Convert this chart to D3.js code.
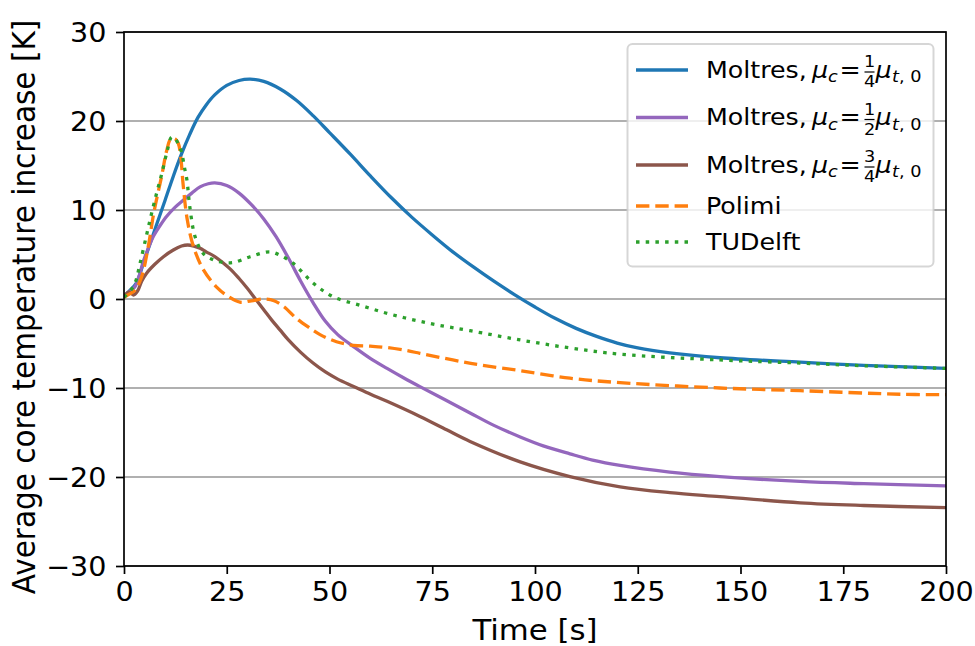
<!DOCTYPE html>
<html><head><meta charset="utf-8">
<script src="https://cdn.jsdelivr.net/npm/d3@7"></script>
<style>body{margin:0;background:#fff} svg{display:block} text{font-family:"DejaVu Sans",sans-serif;fill:#000}</style>
</head><body><svg id="c" width="975" height="646"></svg>
<script>
// ---- data ----
const xTicks = [0, 25, 50, 75, 100, 125, 150, 175, 200];
const yTicks = [-30, -20, -10, 0, 10, 20, 30];

const tBlue = [0, 1.5, 3, 4.7, 6, 8, 10, 12, 14, 16, 18, 20, 22, 25, 28, 30.7, 34, 38, 42, 46, 50, 55, 60, 65, 70, 75, 80, 85, 90, 95, 100, 105, 110, 115, 120, 125, 132.8, 145, 164.5, 180, 200];
const vBlue = [0.3, 1.0, 1.8, 4.0, 5.75, 8.45, 11.1, 13.8, 16.3, 18.5, 20.4, 21.8, 22.9, 24.0, 24.55, 24.7, 24.45, 23.6, 22.3, 20.6, 18.7, 16.3, 13.8, 11.4, 9.2, 7.2, 5.3, 3.6, 2.0, 0.5, -0.9, -2.2, -3.3, -4.2, -4.95, -5.5, -6.05, -6.6, -7.1, -7.45, -7.8];

const tPurple = [0, 1.5, 2.7, 3.7, 4.7, 5.9, 7.1, 8.7, 10.4, 12.4, 14.4, 16.5, 18.5, 20.5, 22.1, 25, 28, 31, 34, 37, 40, 43, 46, 49, 52, 56, 60, 64, 68, 72, 78, 84.2, 90, 96.4, 102, 108.5, 114, 120.7, 132.8, 145, 164.5, 180, 200];
const vPurple = [0.3, 0.9, 1.4, 2.6, 4.2, 5.7, 7.0, 8.2, 9.3, 10.3, 11.1, 11.9, 12.6, 12.95, 13.05, 12.75, 11.9, 10.6, 9.0, 7.0, 4.6, 2.0, -0.4, -2.5, -4.0, -5.4, -6.7, -7.8, -8.85, -9.85, -11.3, -12.8, -14.2, -15.5, -16.5, -17.4, -18.1, -18.7, -19.45, -19.95, -20.5, -20.75, -21.0];

const tBrown = [0, 1.2, 2.3, 3.3, 4.3, 5.5, 7.5, 9.6, 12, 14, 15.5, 17, 18.5, 20, 22, 24, 26, 28, 30, 32, 34, 36, 38, 40, 43, 46, 49, 52, 56, 60, 64, 72, 78.5, 84.2, 96.4, 108.5, 120.7, 132.8, 145, 164.5, 180, 200];
const vBrown = [0.3, 0.8, 0.45, 0.9, 2.0, 2.9, 3.9, 4.75, 5.5, 5.95, 6.07, 5.95, 5.7, 5.3, 4.8, 4.1, 3.3, 2.3, 1.2, 0.0, -1.2, -2.4, -3.5, -4.6, -6.0, -7.2, -8.2, -9.0, -9.85, -10.7, -11.5, -13.2, -14.7, -16.0, -18.3, -19.95, -21.1, -21.75, -22.2, -22.9, -23.2, -23.45];

const tPolimi = [0, 1.5, 2.7, 4.3, 5.9, 7.3, 9.2, 10.4, 11.4, 12.4, 13.2, 13.8, 14.4, 15.4, 16.9, 19.3, 22.6, 25, 28.2, 31, 34, 36.5, 39, 42, 45, 47.7, 51.7, 55.8, 59.9, 63.9, 68.8, 72, 80, 86.6, 96.4, 108.5, 120.7, 145, 164.5, 188.8, 200];
const vPolimi = [0.2, 0.6, 1.0, 2.5, 5.9, 9.8, 13.9, 16.7, 18.0, 18.0, 17.5, 16.0, 12.8, 8.9, 5.9, 3.3, 1.3, 0.4, -0.35, -0.2, 0.0, -0.2, -0.9, -2.2, -3.2, -4.0, -4.8, -5.2, -5.3, -5.45, -5.8, -6.1, -6.85, -7.4, -8.05, -8.9, -9.4, -10.0, -10.3, -10.7, -10.75];

const tTUDelft = [0, 1.5, 2.7, 3.9, 5.5, 6.7, 8, 9.2, 10.5, 11.6, 12.5, 13.3, 14, 14.7, 15.3, 16, 17.3, 19.3, 21.7, 24.2, 26.6, 30.7, 35.5, 38, 41.2, 46, 50.9, 57.4, 63.9, 70, 76.1, 84.2, 96.4, 108.5, 120.7, 145, 164.5, 180, 200];
const vTUDelft = [0.2, 0.9, 1.8, 4.0, 7.2, 9.6, 12.0, 14.1, 16.6, 18.2, 18.0, 17.3, 16.5, 14.8, 13.4, 10.4, 7.0, 5.1, 4.4, 4.1, 4.1, 4.75, 5.3, 4.9, 4.0, 1.8, 0.25, -0.7, -1.6, -2.3, -2.9, -3.56, -4.6, -5.5, -6.2, -6.85, -7.2, -7.5, -7.8];

const moltresFractions = [["1", "4"], ["1", "2"], ["3", "4"]];
const seriesNames = ["Moltres", "Moltres", "Moltres", "Polimi", "TUDelft"];
const xLabel = "Time [s]";
const yLabel = "Average core temperature increase [K]";

// ---- chart ----
const W = 975, H = 646;
const L = 124, R = 946, T = 32, B = 566;
const SX = 1.1;
const LW = 3.3;
const x = d3.scaleLinear().domain([0, 200]).range([L, R]);
const y = d3.scaleLinear().domain([-30, 30]).range([B, T]);
const svg = d3.select('#c');
svg.append('rect').attr('width', W).attr('height', H).attr('fill', '#fff');

const fmt = d => d < 0 ? '\u2212' + Math.abs(d) : String(d);

// grid
svg.append('g').selectAll('line').data(yTicks).join('line')
  .attr('x1', L).attr('x2', R).attr('y1', d => y(d)).attr('y2', d => y(d))
  .attr('stroke', '#b0b0b0').attr('stroke-width', 1.8);

const series = [
  {t: tBlue, v: vBlue, color: '#1f77b4', dash: null},
  {t: tPurple, v: vPurple, color: '#9467bd', dash: null},
  {t: tBrown, v: vBrown, color: '#8c564b', dash: null},
  {t: tPolimi, v: vPolimi, color: '#ff7f0e', dash: '13.4,5.9'},
  {t: tTUDelft, v: vTUDelft, color: '#2ca02c', dash: '3.5,6.2'}
];
svg.append('clipPath').attr('id', 'clip').append('rect').attr('x', L).attr('y', T).attr('width', R - L).attr('height', B - T);
const line = d3.line().x(d => x(d[0])).y(d => y(d[1])).curve(d3.curveCatmullRom.alpha(0.5));
const gl = svg.append('g').attr('clip-path', 'url(#clip)');
series.forEach(s => {
  gl.append('path').datum(s.t.map((t, i) => [t, s.v[i]]))
    .attr('d', line).attr('fill', 'none').attr('stroke', s.color).attr('stroke-width', LW)
    .attr('stroke-dasharray', s.dash).attr('stroke-linecap', s.dash ? 'butt' : 'square')
    .attr('stroke-linejoin', 'round');
});

// axes
const ax = svg.append('g').attr('transform', `translate(0,${B})`)
  .call(d3.axisBottom(x).tickValues(xTicks).tickSize(8).tickFormat(fmt));
const ay = svg.append('g').attr('transform', `translate(${L},0)`)
  .call(d3.axisLeft(y).tickValues(yTicks).tickSize(8).tickFormat(fmt));
[ax, ay].forEach(a => {
  a.select('.domain').remove();
  a.selectAll('.tick line').attr('stroke', '#000').attr('stroke-width', 1.7);
  a.selectAll('text').attr('font-size', 26).attr('font-family', '"DejaVu Sans",sans-serif').attr('fill', '#000');
});
ax.selectAll('.tick text').attr('y', null).attr('dy', null).attr('transform', `translate(0,35) scale(${SX},1)`);
ay.selectAll('.tick text').attr('x', null).attr('dy', null).attr('text-anchor', 'end').attr('transform', `translate(-17.5,9.5) scale(${SX},1)`);

// spines
svg.append('rect').attr('x', L).attr('y', T).attr('width', R - L).attr('height', B - T)
  .attr('fill', 'none').attr('stroke', '#000').attr('stroke-width', 1.7);

// axis labels
svg.append('text').attr('transform', `translate(${(L + R) / 2},640) scale(${SX},1)`)
  .attr('text-anchor', 'middle').attr('font-size', 28).text(xLabel);
svg.append('text').attr('transform', `translate(35,${(T + B) / 2 + 8}) scale(${SX},1) rotate(-90)`)
  .attr('text-anchor', 'middle').attr('font-size', 29.5).text(yLabel);

// legend
const lg = svg.append('g');
lg.append('rect').attr('x', 627.5).attr('y', 44).attr('width', 306).attr('height', 222.5).attr('rx', 5)
  .attr('fill', 'rgba(255,255,255,0.8)').attr('stroke', 'rgba(204,204,204,0.8)').attr('stroke-width', 2);
const rowY = [70, 117.5, 165, 206, 242];
const FS = 23, SUB = FS * 0.7;
const piece = (px, py, txt, fs, it, anchor) => lg.append('text')
  .attr('transform', `translate(${px},${py}) scale(${SX},1)`)
  .attr('font-size', fs).attr('font-style', it ? 'italic' : 'normal')
  .attr('text-anchor', anchor || 'start').text(txt);
series.forEach((s, i) => {
  const by = rowY[i] + 7.5;
  lg.append('line').attr('x1', 636).attr('x2', 688).attr('y1', rowY[i]).attr('y2', rowY[i])
    .attr('stroke', s.color).attr('stroke-width', LW).attr('stroke-dasharray', s.dash);
  if (i < 3) {
    piece(706, by, seriesNames[i] + ',', FS, false);
    piece(812, by, '\u03bc', FS, true);
    piece(828, by + 4.5, 'c', SUB, true);
    piece(839.5, by, '=', FS, false);
    const [n, d] = moltresFractions[i];
    piece(869.5, by - 10.5, n, SUB, false, 'middle');
    piece(869.5, by + 9.5, d, SUB, false, 'middle');
    lg.append('line').attr('x1', 864.5).attr('x2', 874.5).attr('y1', by - 5.5).attr('y2', by - 5.5)
      .attr('stroke', '#000').attr('stroke-width', 1.2);
    piece(875.5, by, '\u03bc', FS, true);
    const tt = piece(892, by + 4.5, 't', SUB, true);
    const tw = tt.node().getComputedTextLength() * SX;
    piece(892 + tw, by + 4.5, ', 0', SUB, false);
  } else {
    piece(706, by, seriesNames[i], FS, false);
  }
});
</script></body></html>
